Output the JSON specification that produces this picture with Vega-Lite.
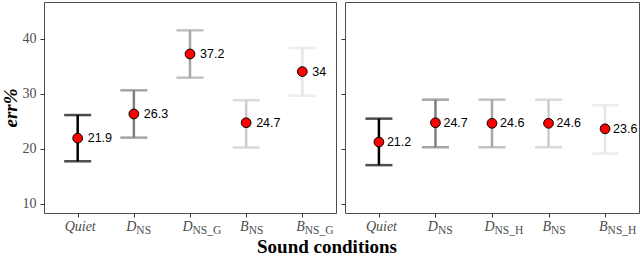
{
  "$schema": "https://vega.github.io/schema/vega-lite/v6.json",
  "background": "white",
  "padding": {"left": 0, "top": 1, "right": 1, "bottom": 0},
  "spacing": 3,
  "datasets": {
    "errs": [
      {"panel": "A", "cond": "Quiet", "mean": 21.9, "lo": 17.7, "hi": 26.1},
      {"panel": "A", "cond": "D_NS", "mean": 26.3, "lo": 22.0, "hi": 30.6},
      {"panel": "A", "cond": "D_NS_G", "mean": 37.2, "lo": 32.9, "hi": 41.5},
      {"panel": "A", "cond": "B_NS", "mean": 24.7, "lo": 20.2, "hi": 28.8},
      {"panel": "A", "cond": "B_NS_G", "mean": 34, "lo": 29.6, "hi": 38.3},
      {"panel": "B", "cond": "Quiet", "mean": 21.2, "lo": 17.0, "hi": 25.45},
      {"panel": "B", "cond": "D_NS", "mean": 24.7, "lo": 20.25, "hi": 28.9},
      {"panel": "B", "cond": "D_NS_H", "mean": 24.6, "lo": 20.25, "hi": 28.9},
      {"panel": "B", "cond": "B_NS", "mean": 24.6, "lo": 20.25, "hi": 28.9},
      {"panel": "B", "cond": "B_NS_H", "mean": 23.6, "lo": 19.1, "hi": 27.9}
    ]
  },
  "title": {
    "text": "Sound conditions",
    "orient": "bottom",
    "anchor": "middle",
    "font": "Liberation Serif",
    "fontWeight": "bold",
    "fontSize": 19,
    "color": "black",
    "offset": 2,
    "dx": 7
  },
  "hconcat": [
    {
      "width": 292,
      "height": 211,
      "data": {"name": "errs"},
      "transform": [{"filter": "datum.panel == 'A'"}],
      "resolve": {"axis": {"x": "independent"}},
      "layer": [
        {
          "mark": {"type": "rule", "strokeWidth": 2.5},
          "encoding": {
            "x": {"field": "cond", "type": "nominal", "sort": ["Quiet", "D_NS", "D_NS_G", "B_NS", "B_NS_G"],
              "scale": {"type": "point", "padding": 0.6},
              "axis": {"orient": "bottom", "title": null, "labelAngle": 0, "tickSize": 4, "tickColor": "#333333", "labelPadding": 2,
                "labelExpr": "datum.value == 'Quiet' ? 'Quiet' : slice(datum.value, 0, 1)",
                "labelFont": "Liberation Serif", "labelFontStyle": "italic", "labelFontSize": 14, "labelColor": "#4d4d4d",
                "labelAlign": {"condition": {"test": "datum.value == 'Quiet'", "value": "center"}, "value": "right"}, "labelOffset": 2}},
            "y": {"field": "lo", "type": "quantitative", "scale": {"domain": [8.3, 46.65], "nice": false, "zero": false},
              "axis": {"title": "err%", "titleFont": "Liberation Serif", "titleFontWeight": "bold", "titleFontStyle": "italic", "titleFontSize": 19, "titleColor": "black", "titlePadding": 2,
                "values": [10, 20, 30, 40], "tickSize": 4, "tickColor": "#333333", "labelPadding": 4,
                "labelFont": "Liberation Serif", "labelFontSize": 14, "labelColor": "#4d4d4d"}},
            "y2": {"field": "hi"},
            "color": {"field": "cond", "type": "nominal", "legend": null,
              "scale": {"domain": ["Quiet", "D_NS", "D_NS_G", "D_NS_H", "B_NS", "B_NS_G", "B_NS_H"],
                "range": ["#000000", "#7f7f7f", "#a6a6a6", "#a6a6a6", "#cccccc", "#e5e5e5", "#e5e5e5"]}}
          }
        },
        {
          "mark": {"type": "tick", "size": 27, "thickness": 2.5},
          "encoding": {
            "x": {"field": "cond", "type": "nominal", "sort": ["Quiet", "D_NS", "D_NS_G", "B_NS", "B_NS_G"], "axis": null},
            "y": {"field": "lo", "type": "quantitative"},
            "color": {"field": "cond", "type": "nominal", "legend": null}
          }
        },
        {
          "mark": {"type": "tick", "size": 27, "thickness": 2.5},
          "encoding": {
            "x": {"field": "cond", "type": "nominal", "sort": ["Quiet", "D_NS", "D_NS_G", "B_NS", "B_NS_G"], "axis": null},
            "y": {"field": "hi", "type": "quantitative"},
            "color": {"field": "cond", "type": "nominal", "legend": null}
          }
        },
        {
          "mark": {"type": "circle", "size": 95, "fill": "#ff0000", "stroke": "black", "strokeWidth": 1, "opacity": 1},
          "encoding": {
            "x": {"field": "cond", "type": "nominal", "sort": ["Quiet", "D_NS", "D_NS_G", "B_NS", "B_NS_G"],
              "axis": {"orient": "bottom", "title": null, "labelAngle": 0, "ticks": false, "domain": false, "labelPadding": 11,
                "labelExpr": "datum.value == 'Quiet' ? '' : slice(datum.value, 2)",
                "labelFont": "Liberation Serif", "labelFontSize": 11.5, "labelColor": "#4d4d4d", "labelAlign": "left", "labelOffset": 2}},
            "y": {"field": "mean", "type": "quantitative"}
          }
        },
        {
          "mark": {"type": "text", "align": "left", "baseline": "middle", "dx": 10, "font": "Liberation Sans", "fontSize": 12.5, "color": "black"},
          "encoding": {
            "x": {"field": "cond", "type": "nominal", "sort": ["Quiet", "D_NS", "D_NS_G", "B_NS", "B_NS_G"], "axis": null},
            "y": {"field": "mean", "type": "quantitative"},
            "text": {"field": "mean", "type": "quantitative"}
          }
        }
      ]
    },
    {
      "width": 294,
      "height": 211,
      "data": {"name": "errs"},
      "transform": [{"filter": "datum.panel == 'B'"}],
      "resolve": {"axis": {"x": "independent"}},
      "layer": [
        {
          "mark": {"type": "rule", "strokeWidth": 2.5},
          "encoding": {
            "x": {"field": "cond", "type": "nominal", "sort": ["Quiet", "D_NS", "D_NS_H", "B_NS", "B_NS_H"],
              "scale": {"type": "point", "padding": 0.6},
              "axis": {"orient": "bottom", "title": null, "labelAngle": 0, "tickSize": 4, "tickColor": "#333333", "labelPadding": 2,
                "labelExpr": "datum.value == 'Quiet' ? 'Quiet' : slice(datum.value, 0, 1)",
                "labelFont": "Liberation Serif", "labelFontStyle": "italic", "labelFontSize": 14, "labelColor": "#4d4d4d",
                "labelAlign": {"condition": {"test": "datum.value == 'Quiet'", "value": "center"}, "value": "right"}, "labelOffset": 2}},
            "y": {"field": "lo", "type": "quantitative", "scale": {"domain": [8.3, 46.65], "nice": false, "zero": false},
              "axis": {"title": null, "labels": false, "values": [10, 20, 30, 40], "tickSize": 4, "tickColor": "#333333"}},
            "y2": {"field": "hi"},
            "color": {"field": "cond", "type": "nominal", "legend": null,
              "scale": {"domain": ["Quiet", "D_NS", "D_NS_G", "D_NS_H", "B_NS", "B_NS_G", "B_NS_H"],
                "range": ["#000000", "#7f7f7f", "#a6a6a6", "#a6a6a6", "#cccccc", "#e5e5e5", "#e5e5e5"]}}
          }
        },
        {
          "mark": {"type": "tick", "size": 27, "thickness": 2.5},
          "encoding": {
            "x": {"field": "cond", "type": "nominal", "sort": ["Quiet", "D_NS", "D_NS_H", "B_NS", "B_NS_H"], "axis": null},
            "y": {"field": "lo", "type": "quantitative"},
            "color": {"field": "cond", "type": "nominal", "legend": null}
          }
        },
        {
          "mark": {"type": "tick", "size": 27, "thickness": 2.5},
          "encoding": {
            "x": {"field": "cond", "type": "nominal", "sort": ["Quiet", "D_NS", "D_NS_H", "B_NS", "B_NS_H"], "axis": null},
            "y": {"field": "hi", "type": "quantitative"},
            "color": {"field": "cond", "type": "nominal", "legend": null}
          }
        },
        {
          "mark": {"type": "circle", "size": 95, "fill": "#ff0000", "stroke": "black", "strokeWidth": 1, "opacity": 1},
          "encoding": {
            "x": {"field": "cond", "type": "nominal", "sort": ["Quiet", "D_NS", "D_NS_H", "B_NS", "B_NS_H"],
              "axis": {"orient": "bottom", "title": null, "labelAngle": 0, "ticks": false, "domain": false, "labelPadding": 11,
                "labelExpr": "datum.value == 'Quiet' ? '' : slice(datum.value, 2)",
                "labelFont": "Liberation Serif", "labelFontSize": 11.5, "labelColor": "#4d4d4d", "labelAlign": "left", "labelOffset": 2}},
            "y": {"field": "mean", "type": "quantitative"}
          }
        },
        {
          "mark": {"type": "text", "align": "left", "baseline": "middle", "dx": 8, "font": "Liberation Sans", "fontSize": 12.5, "color": "black"},
          "encoding": {
            "x": {"field": "cond", "type": "nominal", "sort": ["Quiet", "D_NS", "D_NS_H", "B_NS", "B_NS_H"], "axis": null},
            "y": {"field": "mean", "type": "quantitative"},
            "text": {"field": "mean", "type": "quantitative"}
          }
        }
      ]
    }
  ],
  "config": {
    "view": {"stroke": "#4d4d4d", "strokeWidth": 1},
    "axis": {"domain": false, "grid": false}
  }
}
